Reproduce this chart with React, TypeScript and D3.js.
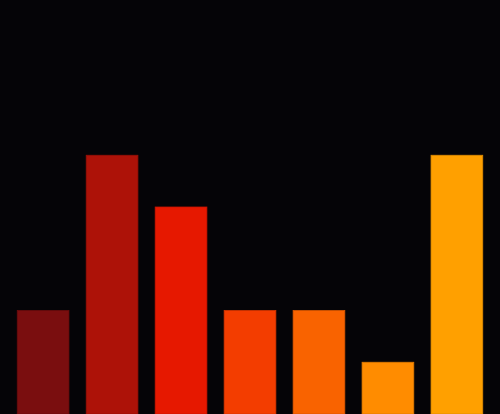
import { useEffect, useRef } from "react";
import * as d3 from "d3";

const categories = ["A", "B", "C", "D", "E", "F", "G"];
const values = [2, 5, 4, 2, 2, 1, 5];
const colors = ["#7a0e0f", "#ad1208", "#e61800", "#f33d00", "#f96300", "#ff8c00", "#ffa000"];

const width = 500;
const height = 414;

export default function App() {
  const ref = useRef<SVGSVGElement>(null);

  useEffect(() => {
    document.body.style.margin = "0";
    const svg = d3.select(ref.current);
    svg.selectAll("*").remove();

    const x = d3
      .scaleBand<string>()
      .domain(categories)
      .range([0, width])
      .paddingInner(0.25)
      .paddingOuter(0.25);
    const y = d3.scaleLinear().domain([0, 8]).range([height, 0]);

    svg
      .append("rect")
      .attr("width", width)
      .attr("height", height)
      .attr("fill", "#050407");

    svg
      .selectAll("rect.bar")
      .data(values)
      .enter()
      .append("rect")
      .attr("class", "bar")
      .attr("x", (_, i) => x(categories[i])!)
      .attr("y", (d) => y(d))
      .attr("width", x.bandwidth())
      .attr("height", (d) => height - y(d))
      .attr("fill", (_, i) => colors[i])
      .attr("stroke", (_, i) => d3.color(colors[i])!.darker(0.4).toString())
      .attr("stroke-width", 0.8);
  }, []);

  return (
    <svg
      ref={ref}
      width={width}
      height={height}
      style={{ position: "absolute", left: 0, top: 0, display: "block" }}
    />
  );
}
